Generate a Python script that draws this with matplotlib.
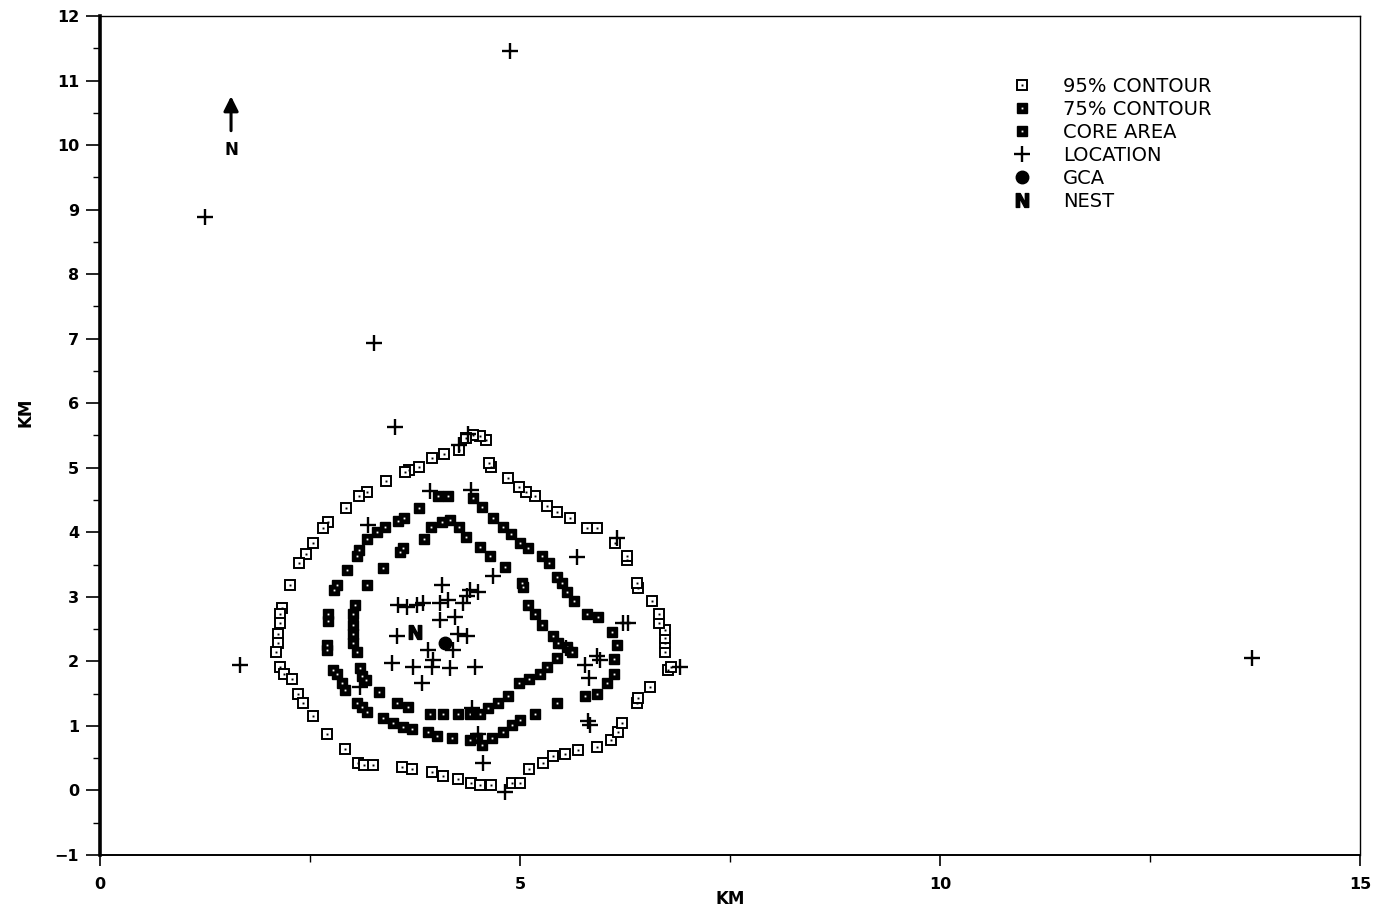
import matplotlib
matplotlib.use('Agg')
import matplotlib.pyplot as plt
from matplotlib.lines import Line2D
from matplotlib.ticker import MultipleLocator

# ---------------- data (km) ----------------
c95_x = [4.27, 4.10, 3.95, 3.80, 3.68, 3.63, 3.40, 3.18, 3.08, 2.93, 2.71, 2.65, 2.54, 2.45,
         2.37, 2.26, 2.17, 2.14, 2.14, 2.12, 2.12, 2.10, 2.14, 2.19, 2.29, 2.36, 2.42, 2.54,
         2.70, 2.92, 3.07, 3.14, 3.25, 3.60, 3.71, 3.95, 4.08, 4.26, 4.42, 4.52, 4.65, 4.90,
         5.00, 5.11, 5.27, 5.39, 5.54, 5.69, 5.92, 6.08, 6.17, 6.21, 6.39, 6.40, 6.55, 6.76,
         6.80, 6.73, 6.73, 6.73, 6.73, 6.65, 6.65, 6.57, 6.40, 6.39, 6.27, 6.27, 6.13, 5.92,
         5.80, 5.60, 5.44, 5.32, 5.18, 5.07, 4.99, 4.86, 4.65, 4.63, 4.60, 4.52, 4.44, 4.36]
c95_y = [5.27, 5.22, 5.15, 5.01, 4.96, 4.93, 4.79, 4.62, 4.57, 4.37, 4.16, 4.06, 3.83, 3.66,
         3.52, 3.19, 2.82, 2.74, 2.60, 2.43, 2.28, 2.14, 1.92, 1.80, 1.72, 1.49, 1.35, 1.16,
         0.88, 0.65, 0.42, 0.39, 0.39, 0.36, 0.34, 0.28, 0.23, 0.17, 0.11, 0.08, 0.08, 0.12,
         0.12, 0.33, 0.43, 0.54, 0.57, 0.62, 0.67, 0.78, 0.90, 1.05, 1.35, 1.43, 1.60, 1.86,
         1.91, 2.14, 2.28, 2.37, 2.48, 2.59, 2.74, 2.93, 3.13, 3.21, 3.57, 3.64, 3.84, 4.06,
         4.06, 4.22, 4.31, 4.40, 4.56, 4.62, 4.70, 4.84, 5.01, 5.07, 5.43, 5.49, 5.50, 5.46]

c75_x = [4.02, 4.14, 3.80, 3.62, 3.55, 3.39, 3.30, 3.18, 3.08, 3.06, 2.94, 2.82, 2.79, 2.71,
         2.71, 2.70, 2.70, 2.77, 2.82, 2.88, 2.92, 3.06, 3.12, 3.18, 3.37, 3.49, 3.61, 3.71,
         3.90, 4.01, 4.19, 4.40, 4.49, 4.55, 4.67, 4.80, 4.90, 5.00, 5.18, 5.44, 5.77, 5.92,
         6.04, 6.12, 6.12, 6.15, 6.10, 5.93, 5.80, 5.64, 5.56, 5.50, 5.44, 5.35, 5.26, 5.10,
         5.00, 4.89, 4.80, 4.68, 4.55, 4.44]
c75_y = [4.56, 4.56, 4.37, 4.22, 4.17, 4.08, 4.00, 3.89, 3.72, 3.64, 3.41, 3.19, 3.10, 2.74,
         2.62, 2.25, 2.17, 1.86, 1.80, 1.67, 1.55, 1.35, 1.29, 1.22, 1.12, 1.04, 0.99, 0.96,
         0.90, 0.85, 0.82, 0.78, 0.82, 0.70, 0.81, 0.90, 1.01, 1.09, 1.19, 1.35, 1.47, 1.50,
         1.67, 1.81, 2.03, 2.26, 2.45, 2.68, 2.74, 2.93, 3.07, 3.21, 3.30, 3.52, 3.64, 3.75,
         3.83, 3.98, 4.08, 4.22, 4.39, 4.53]

core_x = [3.94, 4.07, 4.17, 4.27, 4.36, 4.52, 4.64, 4.82, 5.02, 5.04, 5.10, 5.18, 5.26, 5.39,
          5.45, 5.56, 5.62, 5.44, 5.32, 5.24, 5.11, 4.99, 4.86, 4.74, 4.62, 4.52, 4.40, 4.26,
          4.08, 3.93, 3.67, 3.54, 3.32, 3.17, 3.12, 3.10, 3.06, 3.01, 3.01, 3.01, 3.01, 3.04,
          3.18, 3.37, 3.57, 3.61, 3.86]
core_y = [4.08, 4.16, 4.19, 4.08, 3.92, 3.77, 3.64, 3.47, 3.21, 3.15, 2.87, 2.74, 2.56, 2.40,
          2.29, 2.22, 2.14, 2.06, 1.91, 1.81, 1.72, 1.66, 1.46, 1.35, 1.27, 1.19, 1.19, 1.18,
          1.18, 1.19, 1.29, 1.35, 1.52, 1.71, 1.78, 1.89, 2.14, 2.28, 2.42, 2.56, 2.74, 2.87,
          3.19, 3.44, 3.69, 3.75, 3.89]

loc_x = [4.07, 4.40, 4.50, 4.37, 4.32, 4.14, 4.05, 3.55, 3.65, 3.77, 3.85, 4.05, 4.23, 3.54,
         4.26, 4.37, 3.90, 4.20, 3.96, 3.48, 3.73, 3.95, 4.17, 4.46, 3.83, 4.43, 4.68,
         4.88, 1.25, 3.26, 3.51, 4.38, 4.27, 3.93, 4.42, 3.19, 5.68, 6.15, 6.23, 6.29, 6.90,
         5.92, 5.77, 5.82, 5.95, 5.55, 5.81, 5.83, 4.56, 4.82, 4.50, 3.10, 1.67, 13.71]
loc_y = [3.18, 3.10, 3.07, 3.02, 2.90, 2.95, 2.90, 2.87, 2.84, 2.87, 2.90, 2.64, 2.68, 2.40,
         2.43, 2.40, 2.17, 2.17, 2.02, 1.97, 1.91, 1.91, 1.89, 1.91, 1.66, 1.27, 3.33,
         11.46, 8.88, 6.93, 5.63, 5.52, 5.35, 4.64, 4.65, 4.11, 3.61, 3.91, 2.60, 2.60, 1.91,
         2.09, 1.94, 1.75, 2.02, 2.20, 1.07, 1.01, 0.42, -0.03, 0.88, 1.60, 1.94, 2.06]

gca_x, gca_y = [4.11], [2.29]
nest_x, nest_y = [3.75], [2.46]

legend_labels = ['95% CONTOUR', '75% CONTOUR', 'CORE AREA', 'LOCATION', 'GCA', 'NEST']
x_ticks = [0, 5, 10, 15]
y_ticks = list(range(-1, 13))

# ---------------- figure ----------------
plt.rcParams['font.family'] = ['DejaVu Sans']
fig = plt.figure(figsize=(13.83, 9.10), dpi=100)
ax = fig.add_axes([100 / 1383, 1 - 855 / 910, 1260 / 1383, 839 / 910])

sq = 6.8
# 95% contour: open squares with a centre dot
ax.plot(c95_x, c95_y, ls='none', marker='s', ms=sq, mfc='white', mec='black', mew=1.4, zorder=3)
ax.plot(c95_x, c95_y, ls='none', marker='s', ms=1.4, mfc='black', mec='black', mew=0, zorder=4)
# 75% contour and core: filled squares with white centre
ax.plot(c75_x, c75_y, ls='none', marker='s', ms=sq, mfc='black', mec='black', mew=1.0, zorder=3)
ax.plot(c75_x, c75_y, ls='none', marker='s', ms=1.3, mfc='white', mec='white', mew=0, zorder=4)
ax.plot(core_x, core_y, ls='none', marker='s', ms=sq, mfc='black', mec='black', mew=1.0, zorder=3)
ax.plot(core_x, core_y, ls='none', marker='s', ms=1.3, mfc='white', mec='white', mew=0, zorder=4)
# locations
ax.plot(loc_x, loc_y, ls='none', marker='+', ms=11.5, mec='black', mew=1.7, zorder=5)
# GCA and nest
ax.plot(gca_x, gca_y, ls='none', marker='o', ms=9, mfc='black', mec='black', zorder=6)
ax.plot(nest_x, nest_y, ls='none', marker=r'$\mathbf{N}$', ms=10, mfc='black', mec='black', zorder=6)

# north arrow
ax.annotate('', xy=(1.56, 10.80), xytext=(1.56, 10.18),
            arrowprops=dict(arrowstyle='-|>', color='black', lw=2.2, mutation_scale=22))
ax.text(1.56, 9.92, 'N', ha='center', va='center', fontsize=12, fontweight='bold')

# axes
ax.set_xlim(0, 15)
ax.set_ylim(-1, 12)
ax.set_xticks(x_ticks)
ax.set_yticks(y_ticks)
ax.xaxis.set_minor_locator(MultipleLocator(2.5))
ax.yaxis.set_minor_locator(MultipleLocator(0.5))
ax.tick_params(axis='y', which='major', direction='out', length=10, width=1.2, labelsize=11.5, pad=5)
ax.tick_params(axis='y', which='minor', direction='out', length=5, width=1.0)
ax.tick_params(axis='x', which='major', direction='out', length=8, width=1.2, labelsize=11.5, pad=8)
ax.tick_params(axis='x', which='minor', direction='out', length=5, width=1.0)
for lab in ax.get_xticklabels() + ax.get_yticklabels():
    lab.set_fontweight('bold')
ax.spines['left'].set_linewidth(2.6)
ax.spines['bottom'].set_linewidth(1.4)
ax.spines['top'].set_linewidth(1.0)
ax.spines['right'].set_linewidth(1.0)
ax.set_xlabel('KM', fontsize=12, fontweight='bold')
ax.set_ylabel('KM', fontsize=12, fontweight='bold')
ax.xaxis.set_label_coords(0.5, -0.042)
ax.yaxis.set_label_coords(-0.052, 0.528)

# legend
h95 = (Line2D([], [], ls='none', marker='s', ms=sq, mfc='white', mec='black', mew=1.4),
       Line2D([], [], ls='none', marker='s', ms=1.4, mfc='black', mec='black', mew=0))
h75 = (Line2D([], [], ls='none', marker='s', ms=sq, mfc='black', mec='black'),
       Line2D([], [], ls='none', marker='s', ms=1.3, mfc='white', mec='white', mew=0))
hcore = (Line2D([], [], ls='none', marker='s', ms=sq, mfc='black', mec='black'),
         Line2D([], [], ls='none', marker='s', ms=1.3, mfc='white', mec='white', mew=0))
hloc = Line2D([], [], ls='none', marker='+', ms=11.5, mec='black', mew=1.7)
hgca = Line2D([], [], ls='none', marker='o', ms=9, mfc='black', mec='black')
hnest = Line2D([], [], ls='none', marker=r'$\mathbf{N}$', ms=10, mfc='black', mec='black')
ax.legend([h95, h75, hcore, hloc, hgca, hnest], legend_labels,
          loc='upper left', bbox_to_anchor=(0.7225, 0.927), frameon=False,
          fontsize=14, handlelength=1.2, handletextpad=1.5, labelspacing=0.2,
          borderpad=0, borderaxespad=0)

fig.savefig('out.png', dpi=100, facecolor='white')
